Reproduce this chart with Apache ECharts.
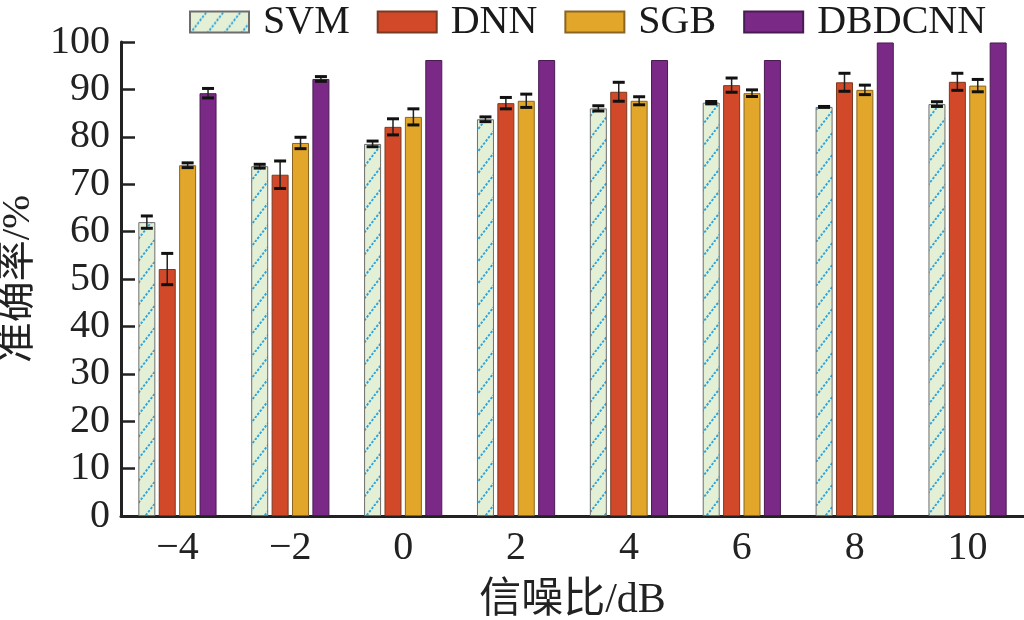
<!DOCTYPE html>
<html><head><meta charset="utf-8">
<script src="https://cdn.jsdelivr.net/npm/echarts@6/dist/echarts.min.js"></script>
<style>html,body{margin:0;padding:0;background:#fff}#c{width:1024px;height:620px}</style>
</head><body><div id="c"></div>
<script>
// ---- data ----
const categories = ['\u22124', '\u22122', '0', '2', '4', '6', '8', '10'];
const seriesNames = ['SVM', 'DNN', 'SGB', 'DBDCNN'];
const svmVals = [62.0, 73.8, 78.5, 83.7, 86.0, 87.2, 86.3, 86.9];
const svmErr  = [1.3, 0.4, 0.6, 0.5, 0.55, 0.25, 0.1, 0.5];
const dnnVals = [52.1, 72.0, 82.1, 87.1, 89.5, 90.9, 91.5, 91.6];
const dnnErr  = [3.3, 2.9, 1.7, 1.2, 2.0, 1.5, 1.9, 1.8];
const sgbVals = [74.0, 78.7, 84.2, 87.6, 87.6, 89.2, 89.9, 90.8];
const sgbErr  = [0.5, 1.2, 1.7, 1.4, 0.85, 0.7, 1.0, 1.3];
const dbdVals = [89.2, 92.2, 96.2, 96.2, 96.2, 96.2, 99.9, 99.9];
const dbdErr  = [1.0, 0.5, 0, 0, 0, 0, 0, 0];
const yTicks = [0, 10, 20, 30, 40, 50, 60, 70, 80, 90, 100];

// ---- style ----
const BAR_W = 17, BAR_GAP = 3.4;
const serifFont = '"Liberation Serif", "DejaVu Serif", serif';
const cjkFont = '"Liberation Serif", "Noto Sans CJK SC", serif';

function makePattern() {
  const w = 17, h = 22;
  const c = document.createElement('canvas');
  c.width = w; c.height = h;
  const ctx = c.getContext('2d');
  ctx.fillStyle = '#e4f0d6';
  ctx.fillRect(0, 0, w, h);
  ctx.strokeStyle = '#2aa3de';
  ctx.lineWidth = 1.9;
  ctx.setLineDash([2.4, 1.6]);
  for (const dx of [-w, 0, w]) {
    ctx.beginPath();
    ctx.moveTo(dx, h);
    ctx.lineTo(dx + w, 0);
    ctx.stroke();
  }
  return c;
}
const pattern = { image: makePattern(), repeat: 'repeat' };

const values = [svmVals, dnnVals, sgbVals, dbdVals];
const errs = [svmErr, dnnErr, sgbErr, dbdErr];
const fills = [pattern, '#d2492a', '#e2a62a', '#7a2a86'];
const borders = ['#6d6d6d', '#7a3a20', '#8a6420', '#4a1a52'];

const series = [];
seriesNames.forEach((n, i) => {
  series.push({
    name: n, type: 'bar', barWidth: BAR_W, barGap: (BAR_GAP / BAR_W * 100) + '%',
    data: values[i],
    itemStyle: { color: fills[i], borderColor: borders[i], borderWidth: 1 },
    z: 2
  });
});
seriesNames.forEach((n, i) => {
  const offset = (i - 1.5) * (BAR_W + BAR_GAP);
  series.push({
    name: n + '_err', type: 'custom',
    data: values[i].map((v, k) => [k, v, errs[i][k]]),
    encode: { x: 0, y: 1 },
    z: 5,
    renderItem: function (params, api) {
      const k = api.value(0), v = api.value(1), e = api.value(2);
      if (!e) return null;
      const top = api.coord([k, v + e]);
      const bot = api.coord([k, v - e]);
      const x = top[0] + offset;
      const hw = 6;
      return {
        type: 'group', children: [
          { type: 'line', shape: { x1: x, y1: top[1], x2: x, y2: bot[1] }, style: { stroke: '#222', lineWidth: 1.5 } },
          { type: 'line', shape: { x1: x - hw, y1: top[1], x2: x + hw, y2: top[1] }, style: { stroke: '#111', lineWidth: 3 } },
          { type: 'line', shape: { x1: x - hw, y1: bot[1], x2: x + hw, y2: bot[1] }, style: { stroke: '#111', lineWidth: 3 } }
        ]
      };
    }
  });
});

const chart = echarts.init(document.getElementById('c'), null, { renderer: 'canvas' });
chart.setOption({
  animation: false,
  backgroundColor: '#fff',
  legend: {
    data: seriesNames, left: 184, top: -3, itemWidth: 59, itemHeight: 21, itemGap: 27,
    icon: 'rect',
    textStyle: { fontFamily: serifFont, fontSize: 40, color: '#1a1a1a', padding: [0, 0, 0, 9] }
  },
  grid: { left: 121, right: 0, top: 42, bottom: 104, containLabel: false, outerBoundsMode: 'none' },
  xAxis: {
    type: 'category', data: categories,
    name: '信噪比/dB', nameLocation: 'middle', nameGap: 64,
    nameTextStyle: { fontFamily: cjkFont, fontSize: 42, color: '#222' },
    axisLine: { lineStyle: { color: '#222', width: 3 } },
    axisTick: { inside: true, alignWithLabel: true, length: 13, lineStyle: { color: '#222', width: 2.5 } },
    axisLabel: { fontFamily: serifFont, fontSize: 40, color: '#222', margin: 12 }
  },
  yAxis: {
    type: 'value', min: yTicks[0], max: yTicks[yTicks.length - 1], interval: yTicks[1] - yTicks[0],
    name: '准确率/%', nameLocation: 'middle', nameGap: 68,
    nameTextStyle: { fontFamily: cjkFont, fontSize: 41, color: '#222' },
    axisLine: { show: true, lineStyle: { color: '#222', width: 3 } },
    axisTick: { show: true, inside: true, length: 14, lineStyle: { color: '#222', width: 2.5 } },
    splitLine: { show: false },
    axisLabel: { fontFamily: serifFont, fontSize: 40, color: '#222', margin: 11 }
  },
  series: series
});
</script></body></html>
